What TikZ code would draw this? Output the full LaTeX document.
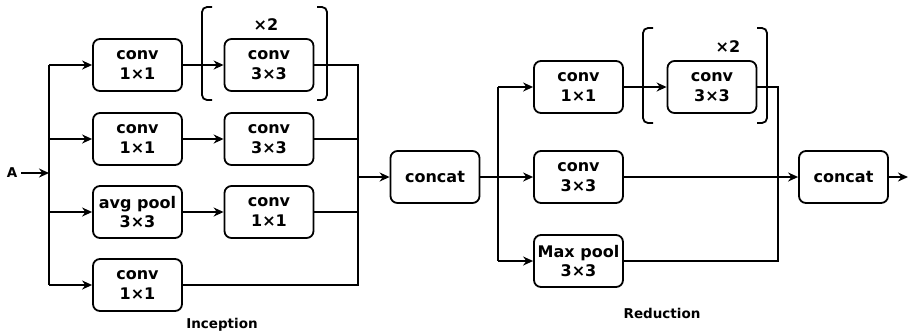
\documentclass[tikz,border=0pt]{standalone}
\usepackage{fontspec}
\setmainfont{DejaVu Sans}
\usetikzlibrary{arrows.meta}
\begin{document}
\begin{tikzpicture}[x=1pt,y=-1pt,
  line width=1.8pt,
  >={Stealth[length=10pt,width=9pt]},
  block/.style={draw, rounded corners=7pt, minimum width=89pt, minimum height=52pt,
    align=center, inner sep=1pt, font=\bfseries\fontsize{16}{19.5}\selectfont},
  caption/.style={font=\bfseries\fontsize{13.5}{16}\selectfont},
  repmark/.style={font=\bfseries\fontsize{16}{19}\selectfont},
  bracketline/.style={rounded corners=5pt}]
\useasboundingbox (0,0) rectangle (910,333);

% Inception block
\node[caption] (A) at (12,173) {A};
\node[block] (i11) at (137.5,65)  {conv\\1×1};
\node[block] (i12) at (269,65)    {conv\\3×3};
\node[block] (i21) at (137.5,139) {conv\\1×1};
\node[block] (i22) at (269,139)   {conv\\3×3};
\node[block] (i31) at (137.5,212) {avg pool\\3×3};
\node[block] (i32) at (269,212)   {conv\\1×1};
\node[block] (i41) at (137.5,285) {conv\\1×1};
\node[block] (c1)  at (435,177)   {concat};

% Reduction block
\node[block] (r1)  at (578.5,87)  {conv\\1×1};
\node[block] (r12) at (712,87)    {conv\\3×3};
\node[block] (r2)  at (578.5,177) {conv\\3×3};
\node[block] (r3)  at (578.5,261) {Max pool\\3×3};
\node[block] (c2)  at (843.5,177) {concat};

% repeat markers
\node[repmark] (rep1) at (266,25) {×2};
\node[repmark] (rep2) at (728,47) {×2};
\draw[bracketline] (212,7) -- (202,7) -- (202,100) -- (212,100);
\draw[bracketline] (317,7) -- (327,7) -- (327,100) -- (317,100);
\draw[bracketline] (653,28) -- (643,28) -- (643,123) -- (653,123);
\draw[bracketline] (757,28) -- (767,28) -- (767,123) -- (757,123);

% captions
\node[caption] (lab1) at (222,325) {Inception};
\node[caption] (lab2) at (662,313) {Reduction};

% split points
\coordinate (s1) at (49,173);
\coordinate (s1t) at (49,65);
\coordinate (s1b) at (49,285);
\coordinate (m1t) at (358,65);
\coordinate (m1b) at (358,285);
\coordinate (m1c) at (358,177);
\coordinate (s2) at (498,177);
\coordinate (s2t) at (498,87);
\coordinate (s2b) at (498,261);
\coordinate (m2t) at (778,87);
\coordinate (m2b) at (778,261);
\coordinate (out) at (908,177);

% Inception connectors
\draw[->] (A) -- (s1);
\draw (s1t) -- (s1b);
\draw[->] (s1t) -- (i11);
\draw[->] (s1t |- i21) -- (i21);
\draw[->] (s1t |- i31) -- (i31);
\draw[->] (s1b) -- (i41);
\draw[->] (i11) -- (i12);
\draw[->] (i21) -- (i22);
\draw[->] (i31) -- (i32);
\draw (i12.east) -- (m1t) -- (m1b) -- (i41.east);
\draw (i22.east) -- (m1t |- i22);
\draw (i32.east) -- (m1t |- i32);
\draw[->] (m1c) -- (c1);

% Reduction connectors
\draw (c1.east) -- (s2);
\draw (s2t) -- (s2b);
\draw[->] (s2t) -- (r1);
\draw[->] (s2) -- (r2);
\draw[->] (s2b) -- (r3);
\draw[->] (r1) -- (r12);
\draw (r12.east) -- (m2t) -- (m2b) -- (r3.east);
\draw[->] (r2) -- (c2);
\draw[->] (c2) -- (out);
\end{tikzpicture}
\end{document}
